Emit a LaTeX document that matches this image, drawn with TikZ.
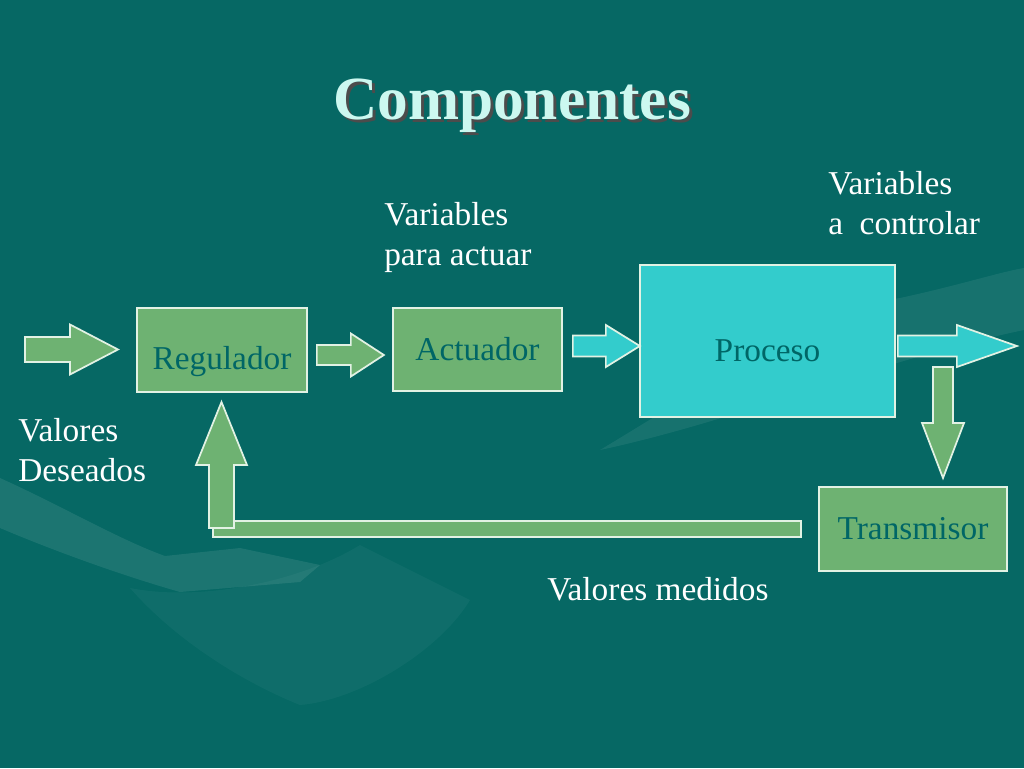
\documentclass[tikz,border=0pt]{standalone}
\usepackage{fontspec}
\setmainfont{Liberation Serif}
\usetikzlibrary{calc}

\definecolor{slidebg}{RGB}{6,104,100}
\definecolor{boxgreen}{RGB}{110,178,114}
\definecolor{boxcyan}{RGB}{51,204,204}
\definecolor{boxtext}{RGB}{0,102,102}
\definecolor{edge}{RGB}{226,242,228}
\definecolor{titlefg}{RGB}{204,248,240}

\tikzset{
  block/.style={draw=edge, line width=1.3pt, fill=boxgreen, text=boxtext,
    font=\fontsize{25}{30}\selectfont, inner sep=0pt, text depth=0pt},
  note/.style={text=white, font=\fontsize{25}{30}\selectfont, align=left, inner sep=0pt},
  heading/.style={font=\fontsize{46}{55}\selectfont\bfseries, inner sep=0pt, anchor=base},
  pics/flowarrow/.style n args={5}{code={
    \draw[draw=edge, line width=1.3pt, fill=#5]
      (0,-#2) -- (#1-#4,-#2) -- (#1-#4,-#3) -- (#1,0) -- (#1-#4,#3)
      -- (#1-#4,#2) -- (0,#2) -- cycle;
  }},
}

\begin{document}
\begin{tikzpicture}[x=0.75pt, y=-0.75pt]
% slide background
\fill[slidebg] (0,0) rectangle (1024,768);
\fill[white, opacity=0.09] (0,478) .. controls (60,505) and (120,540) .. (165,556)
  -- (240,548) -- (320,565) -- (300,582) -- (180,592)
  .. controls (110,572) and (40,545) .. (0,528) -- cycle;
\fill[white, opacity=0.04] (130,588) .. controls (200,602) and (300,582) .. (360,545)
  -- (470,600) .. controls (440,650) and (360,700) .. (300,705)
  .. controls (250,685) and (180,645) .. (130,588) -- cycle;
\fill[white, opacity=0.07] (600,450) .. controls (700,390) and (820,310) .. (900,298)
  .. controls (960,285) and (1000,272) .. (1024,268) -- (1024,330)
  .. controls (880,360) and (740,420) .. (600,450) -- cycle;

% title
\node[heading] (title) at (512,119)
  {\rlap{\kern2.25pt\raisebox{-2.25pt}{\color{black!70}Componentes}}\textcolor{titlefg}{Componentes}};

% blocks
\node[block, minimum width=127.5pt, minimum height=63pt, text height=28.5pt] (reg) at (222,350) {Regulador};
\node[block, minimum width=126.75pt, minimum height=62.25pt, text height=15.75pt] (act) at (477.5,349.5) {Actuador};
\node[block, fill=boxcyan, minimum width=191.25pt, minimum height=114pt, text height=30pt] (proc) at (767.5,341) {Proceso};
\node[block, minimum width=141pt, minimum height=63pt, text height=15pt] (trans) at (913,529) {Transmisor};

% flow arrows
\pic at (25,349.5) {flowarrow={93}{12.5}{25}{48}{boxgreen}};
\pic at ($(reg.east)+(9,5)$) {flowarrow={67}{10}{21.5}{33}{boxgreen}};
\pic at ($(act.east)+(10,-3.5)$) {flowarrow={67}{10.5}{21}{34}{boxcyan}};
\pic[rotate=-90] at (943,367) {flowarrow={111}{10}{21}{55}{boxgreen}};
\pic at ($(proc.east)+(2,5)$) {flowarrow={119}{10.5}{21}{60}{boxcyan}};

% feedback path
\draw[draw=edge, line width=1.3pt, fill=boxgreen] ($(trans.west)+(-17,-8)$) rectangle (213,537);
\pic[rotate=90] at (221.5,528) {flowarrow={126}{12.5}{25.5}{63}{boxgreen}};

% labels
\node[note, anchor=west] (actuar) at (384,237) {Variables\\para actuar};
\node[note, anchor=west] (controlar) at (828,203) {Variables\\a\ \ controlar};
\node[note, anchor=west] (deseados) at (18,450) {Valores\\Deseados};
\node[note, anchor=base west] (medidos) at (547,600) {Valores medidos};

\end{tikzpicture}
\end{document}
